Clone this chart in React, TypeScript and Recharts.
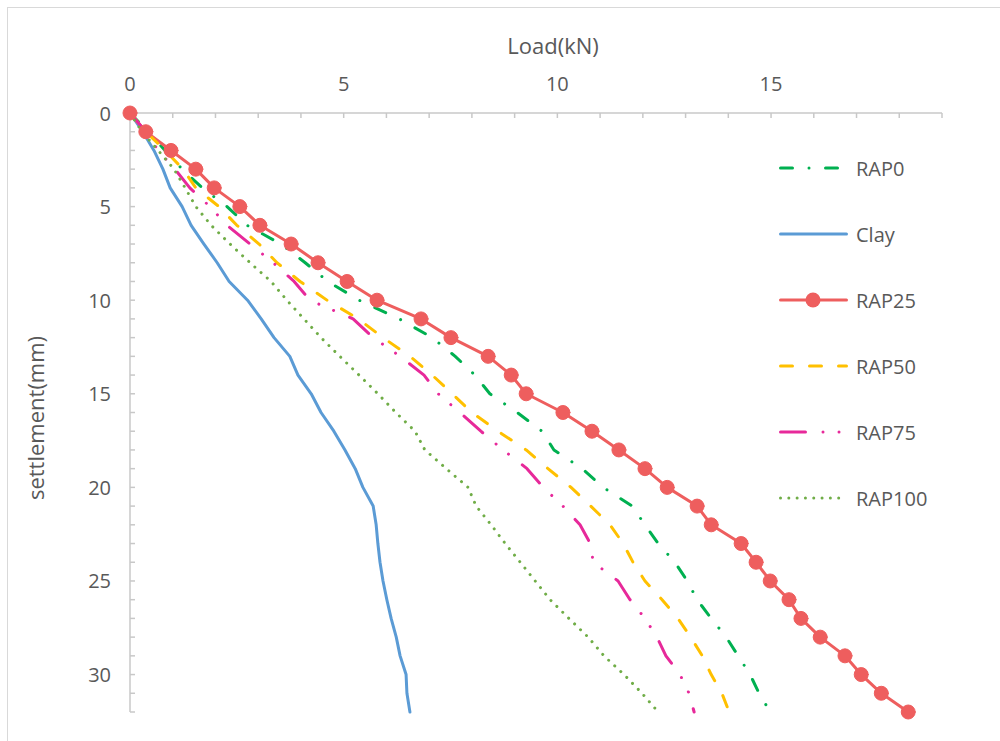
import React from 'react';
import { LineChart, Line, XAxis, YAxis } from 'recharts';

// settlement (mm) sampled at every 1 mm
const settlement = [0, 1, 2, 3, 4, 5, 6, 7, 8, 9, 10, 11, 12, 13, 14, 15, 16, 17, 18, 19, 20, 21, 22, 23, 24, 25, 26, 27, 28, 29, 30, 31, 32];

// loads (kN) at each settlement value
const rap0Load = [0, 0.42, 0.82, 1.22, 1.69, 2.27, 2.74, 3.53, 4.10, 4.63, 5.36, 6.3, 7.07, 7.61, 8.07, 8.42, 9.06, 9.64, 9.92, 10.58, 11.07, 11.75, 12.05, 12.36, 12.75, 13.04, 13.27, 13.6, 13.95, 14.23, 14.51, 14.72, 14.98];
const clayLoad = [0, 0.30, 0.56, 0.77, 0.94, 1.22, 1.43, 1.73, 2.04, 2.32, 2.75, 3.07, 3.37, 3.74, 3.93, 4.24, 4.47, 4.77, 5.03, 5.27, 5.45, 5.69, 5.76, 5.80, 5.85, 5.92, 6.01, 6.11, 6.23, 6.32, 6.46, 6.48, 6.55];
const rap25Load = [0, 0.37, 0.96, 1.54, 1.97, 2.57, 3.04, 3.77, 4.40, 5.08, 5.78, 6.81, 7.51, 8.38, 8.92, 9.27, 10.13, 10.81, 11.44, 12.05, 12.57, 13.27, 13.60, 14.30, 14.65, 14.98, 15.42, 15.70, 16.15, 16.73, 17.11, 17.58, 18.21];
const rap50Load = [0, 0.37, 0.82, 1.24, 1.54, 2.08, 2.50, 3.02, 3.44, 3.98, 4.61, 5.34, 5.92, 6.55, 7.07, 7.54, 8.00, 8.61, 9.27, 9.78, 10.32, 10.78, 11.23, 11.54, 11.77, 12.05, 12.45, 12.82, 13.12, 13.39, 13.60, 13.85, 14.02];
const rap75Load = [0, 0.37, 0.66, 1.05, 1.40, 1.87, 2.27, 2.81, 3.35, 3.84, 4.21, 5.22, 5.69, 6.32, 6.88, 7.21, 7.72, 8.21, 8.73, 9.29, 9.67, 10.13, 10.53, 10.77, 10.84, 11.42, 11.70, 12.05, 12.33, 12.54, 12.87, 13.08, 13.20];
const rap100Load = [0, 0.28, 0.66, 1.03, 1.29, 1.54, 1.90, 2.34, 2.81, 3.30, 3.67, 4.07, 4.47, 4.91, 5.36, 5.80, 6.22, 6.67, 6.90, 7.40, 7.91, 8.10, 8.45, 8.78, 9.13, 9.48, 9.83, 10.27, 10.72, 11.09, 11.56, 11.98, 12.36];

const xTicks = [0, 1, 2, 3, 4, 5, 6, 7, 8, 9, 10, 11, 12, 13, 14, 15, 16, 17, 18, 19];
const yTicks = [0, 1, 2, 3, 4, 5, 6, 7, 8, 9, 10, 11, 12, 13, 14, 15, 16, 17, 18, 19, 20, 21, 22, 23, 24, 25, 26, 27, 28, 29, 30, 31, 32];
const xLabels = [0, 5, 10, 15];
const yLabels = [0, 5, 10, 15, 20, 25, 30];

const toPoints = (loads: number[]) => loads.map((x, i) => ({ x, y: settlement[i] }));

type Series = { name: string; loads: number[]; color: string; dash?: string; marker?: boolean };
const series: Series[] = [
  { name: 'RAP0', loads: rap0Load, color: '#00B050', dash: '12 16.5 0.01 16.5' },
  { name: 'Clay', loads: clayLoad, color: '#5B9BD5' },
  { name: 'RAP25', loads: rap25Load, color: '#EE5E5E', marker: true },
  { name: 'RAP50', loads: rap50Load, color: '#FFC000', dash: '12 17' },
  { name: 'RAP75', loads: rap75Load, color: '#E7299A', dash: '25 17.5 0.01 16 0.01 17.5' },
  { name: 'RAP100', loads: rap100Load, color: '#70AD47', dash: '0.01 8.3' },
];

const FONT = '"Open Sans", sans-serif';
const TEXT = '#595959';
const AXIS = '#C8C8C8';

const XTick = (props: any) => {
  const { x, payload } = props;
  if (!xLabels.includes(payload.value)) return <g />;
  return (
    <text x={x} y={83} textAnchor="middle" dominantBaseline="central" fontSize={20} fontFamily={FONT} fill={TEXT}>
      {payload.value}
    </text>
  );
};

const YTick = (props: any) => {
  const { y, payload } = props;
  if (!yLabels.includes(payload.value)) return <g />;
  return (
    <text x={111} y={y} textAnchor="end" dominantBaseline="central" fontSize={20} fontFamily={FONT} fill={TEXT}>
      {payload.value}
    </text>
  );
};

const legendRows = [168, 234, 300, 366, 432, 498];

export default function App() {
  return (
    <div style={{ position: 'fixed', left: 0, top: 0, width: 1000, height: 741, overflow: 'hidden', background: '#fff' }}>
      <div style={{ position: 'absolute', left: 7, top: 7, width: 1100, height: 900, border: '1px solid #D9D9D9' }} />
      <div style={{ position: 'absolute', left: 0, top: 0 }}>
        <LineChart width={1000} height={741} margin={{ top: 113, right: 58, bottom: 29, left: 130 }}>
          <XAxis
            type="number"
            dataKey="x"
            domain={[0, 19]}
            ticks={xTicks}
            interval={0}
            orientation="top"
            mirror
            tick={XTick}
            tickSize={5}
            axisLine={{ stroke: AXIS, strokeWidth: 1.5 }}
            tickLine={{ stroke: AXIS, strokeWidth: 1.5 }}
          />
          <YAxis
            type="number"
            dataKey="y"
            domain={[0, 32]}
            ticks={yTicks}
            interval={0}
            reversed
            mirror
            tick={YTick}
            tickSize={5}
            axisLine={{ stroke: AXIS, strokeWidth: 1.5 }}
            tickLine={{ stroke: AXIS, strokeWidth: 1.5 }}
          />
          {series.map((s) => (
            <Line
              key={s.name}
              name={s.name}
              data={toPoints(s.loads)}
              dataKey="y"
              type="linear"
              stroke={s.color}
              strokeWidth={3}
              strokeDasharray={s.dash}
              strokeLinecap="round"
              strokeLinejoin="round"
              dot={s.marker ? { r: 7, fill: s.color, stroke: s.color, strokeWidth: 1, strokeDasharray: '' } : false}
              activeDot={false}
              isAnimationActive={false}
            />
          ))}
        </LineChart>
      </div>
      <div style={{ position: 'absolute', left: 553, top: 45, transform: 'translate(-50%, -50%)', fontFamily: FONT, fontSize: 22, color: TEXT, whiteSpace: 'nowrap' }}>
        Load(kN)
      </div>
      <div style={{ position: 'absolute', left: 35, top: 418, transform: 'translate(-50%, -50%) rotate(-90deg)', fontFamily: FONT, fontSize: 22, color: TEXT, whiteSpace: 'nowrap' }}>
        settlement(mm)
      </div>
      {series.map((s, i) => (
        <div key={s.name} style={{ position: 'absolute', left: 776, top: legendRows[i] - 12, height: 24, display: 'flex', alignItems: 'center' }}>
          <svg width={76} height={24} style={{ display: 'block' }}>
            <line x1={4.5} y1={12} x2={70.5} y2={12} stroke={s.color} strokeWidth={3} strokeDasharray={s.dash} strokeLinecap="round" />
            {s.marker ? <circle cx={37} cy={12} r={7.5} fill={s.color} /> : null}
          </svg>
          <span style={{ marginLeft: 4, fontFamily: FONT, fontSize: 20, color: TEXT, whiteSpace: 'nowrap' }}>{s.name}</span>
        </div>
      ))}
    </div>
  );
}
